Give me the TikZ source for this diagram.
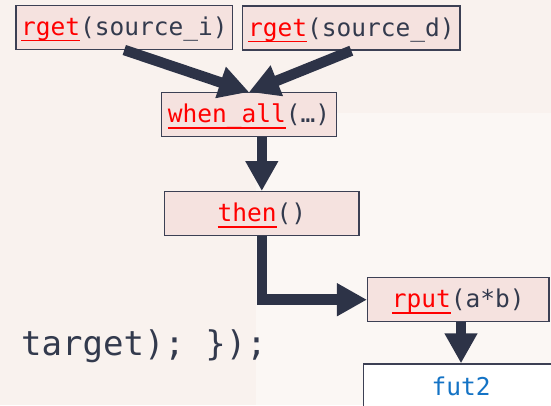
\documentclass[tikz,border=0pt]{standalone}
\usepackage{fontspec}
\usetikzlibrary{arrows.meta}
\newfontfamily\codefont{DejaVu Sans Mono}
\definecolor{bgwarm}{RGB}{249,242,238}
\definecolor{bglight}{RGB}{251,247,244}
\definecolor{boxfill}{RGB}{245,226,223}
\definecolor{boxline}{RGB}{60,64,84}
\definecolor{codegray}{RGB}{51,58,77}
\definecolor{codered}{RGB}{255,0,0}
\definecolor{codeblue}{RGB}{20,115,197}
\definecolor{arrowcol}{RGB}{45,51,71}
% red, underlined function name
\newcommand\fname[1]{{\color{codered}\setbox0=\hbox{#1}\rlap{\rule[-6bp]{\wd0}{1.4bp}}\box0}}
\tikzset{
  callbox/.style={draw=boxline, line width=1.4bp, fill=boxfill, inner sep=0pt,
    minimum height=44bp, text height=20bp, text depth=4bp,
    font=\codefont\fontsize{24.5bp}{29bp}\selectfont, text=codegray},
  resultbox/.style={draw=boxline, line width=1.4bp, fill=white, inner sep=0pt,
    minimum height=50bp, text height=19bp, text depth=7bp,
    font=\codefont\fontsize{24.5bp}{29bp}\selectfont, text=codeblue},
  flow/.style={draw=arrowcol, line width=10.5bp,
    -{Triangle[length=30bp,width=31bp]}}
}
\begin{document}
\begin{tikzpicture}[x=1bp,y=-1bp]
  % background panels
  \fill[bgwarm] (0,0) rectangle (551,405);
  \fill[bglight] (256,113) rectangle (551,405);
  \useasboundingbox (0,0) rectangle (551,405);
  \begin{scope}
    \clip (0,0) rectangle (551,405);
    % continuation of the source code
    \node[anchor=base west, inner sep=0pt, text=codegray,
      font=\codefont\fontsize{34bp}{40bp}\selectfont] (code) at (21,355) {target); \});};
    % future graph
    \node[callbox, minimum width=216.7bp] (srci) at (124.3,27.3) {\fname{rget}(source\_i)};
    \node[callbox, minimum width=217.3bp] (srcd) at (351.3,28) {\fname{rget}(source\_d)};
    \node[callbox, minimum width=175.4bp] (wall) at (249,114.7) {\fname{when\_all}(\dots)};
    \node[callbox, minimum width=194.3bp] (thn) at (261.8,213.7) {\fname{then}()};
    \node[callbox, minimum width=181.3bp] (put) at (458.3,299.7) {\fname{rput}(a*b)};
    \node[resultbox, minimum width=195bp] (fut) at (461,389) {fut2};
    % dependencies
    \draw[flow] (srci.south) -- (wall.north);
    \draw[flow] (srcd.south) -- (wall.north);
    \draw[flow] (thn.north |- wall.south) -- (thn.north);
    \draw[flow] (thn.south) |- (put.west);
    \draw[flow] (fut.north |- put.south) -- (fut.north);
  \end{scope}
\end{tikzpicture}
\end{document}
